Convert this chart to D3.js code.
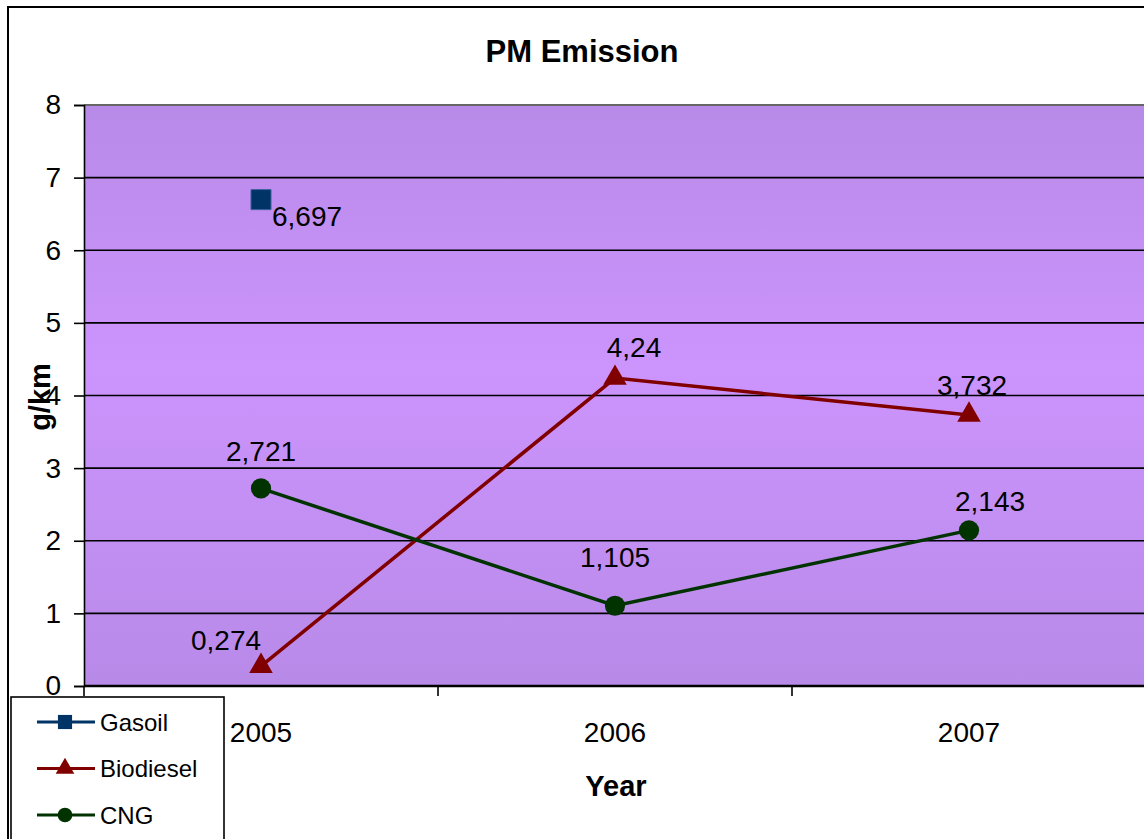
<!DOCTYPE html>
<html>
<head>
<meta charset="utf-8">
<script src="https://cdn.jsdelivr.net/npm/d3@7/dist/d3.min.js"></script>
<style>
  html, body { margin: 0; padding: 0; background: #ffffff; overflow: hidden; }
  svg { display: block; font-family: "Liberation Sans", Arial, sans-serif; }
</style>
</head>
<body>
<svg id="chart" width="1144" height="839"></svg>
<script>
// Years on the category axis
const years = ["2005", "2006", "2007"];
// PM emission in g/km per fuel (null = not measured)
const gasoil    = [6.697, null, null];
const biodiesel = [0.274, 4.24, 3.732];
const cng       = [2.721, 1.105, 2.143];
// Value axis ticks
const yTicks = [0, 1, 2, 3, 4, 5, 6, 7, 8];

const series = [
  { name: "Gasoil",    values: gasoil,    color: "#003366", symbol: d3.symbolSquare,   size: 400, legendSize: 200 },
  { name: "Biodiesel", values: biodiesel, color: "#800000", symbol: d3.symbolTriangle, size: 240, legendSize: 150 },
  { name: "CNG",       values: cng,       color: "#003300", symbol: d3.symbolCircle,   size: 320, legendSize: 170 }
];

// Nudges for the value labels, one per point [dx, dy]
const labelNudge = {
  Gasoil:    [[11, 26], null, null],
  Biodiesel: [[-35, -16], [19, -21], [3, -20]],
  CNG:       [[0, -27], [0, -39], [21, -19]]
};
const labelAnchor = { Gasoil: "start", Biodiesel: "middle", CNG: "middle" };

const svg = d3.select("#chart");
const plot = { left: 84, top: 105, right: 1146, bottom: 686 };

const x = d3.scaleBand().domain(years).range([plot.left, plot.right]).padding(0);
const y = d3.scaleLinear().domain([0, 8]).range([plot.bottom, plot.top]);

// Outer chart frame
svg.append("rect")
  .attr("x", 8).attr("y", 7).attr("width", 1150).attr("height", 850)
  .attr("fill", "#ffffff").attr("stroke", "#000").attr("stroke-width", 2);

// Plot background: purple band that lightens toward the middle
const defs = svg.append("defs");
const grad = defs.append("linearGradient").attr("id", "bg")
  .attr("x1", 0).attr("y1", 0).attr("x2", 0).attr("y2", 1);
grad.append("stop").attr("offset", "0%").attr("stop-color", "#b88ae8");
grad.append("stop").attr("offset", "45%").attr("stop-color", "#cc94fd");
grad.append("stop").attr("offset", "100%").attr("stop-color", "#b88ae8");

svg.append("rect")
  .attr("x", plot.left).attr("y", plot.top)
  .attr("width", plot.right - plot.left).attr("height", plot.bottom - plot.top)
  .attr("fill", "url(#bg)");

// Horizontal gridlines
svg.append("g").selectAll("line")
  .data(yTicks.filter(d => d > 0))
  .join("line")
  .attr("x1", plot.left).attr("x2", plot.right)
  .attr("y1", d => y(d)).attr("y2", d => y(d))
  .attr("stroke", d => d === 8 ? "#666" : "#000")
  .attr("stroke-width", d => d === 8 ? 2 : 1.6);

// Y axis
const yAxis = d3.axisLeft(y).tickValues(yTicks).tickSize(10).tickPadding(13).tickFormat(d3.format("d"));
const gy = svg.append("g").attr("transform", `translate(${plot.left},0)`).call(yAxis);
gy.select(".domain").attr("stroke", "#000").attr("stroke-width", 1.6);
gy.selectAll(".tick line").attr("stroke", "#000").attr("stroke-width", 1.6);
gy.selectAll(".tick text").attr("font-size", 28).attr("fill", "#000")
  .attr("font-family", "Liberation Sans, Arial, sans-serif");

// X axis line and category boundary ticks
svg.append("line")
  .attr("x1", plot.left).attr("x2", plot.right)
  .attr("y1", plot.bottom).attr("y2", plot.bottom)
  .attr("stroke", "#000").attr("stroke-width", 2.5);
const bounds = years.map(d => x(d)).concat([x(years[years.length - 1]) + x.bandwidth()]);
svg.append("g").selectAll("line")
  .data(bounds)
  .join("line")
  .attr("x1", d => d).attr("x2", d => d)
  .attr("y1", plot.bottom).attr("y2", plot.bottom + 10)
  .attr("stroke", "#000").attr("stroke-width", 1.6);
svg.append("g").selectAll("text")
  .data(years)
  .join("text")
  .attr("x", d => x(d) + x.bandwidth() / 2)
  .attr("y", 742)
  .attr("text-anchor", "middle")
  .attr("font-size", 28)
  .text(d => d);

// Titles
svg.append("text").attr("x", 582).attr("y", 62).attr("text-anchor", "middle")
  .attr("font-size", 31).attr("font-weight", "bold").text("PM Emission");
svg.append("text").attr("x", 616).attr("y", 796).attr("text-anchor", "middle")
  .attr("font-size", 29).attr("font-weight", "bold").text("Year");
svg.append("text").attr("transform", "translate(50,397) rotate(-90)").attr("text-anchor", "middle")
  .attr("font-size", 29).attr("font-weight", "bold").text("g/km");

// Series lines, markers and value labels
const fmt = v => String(v).replace(".", ",");
const cx = i => x(years[i]) + x.bandwidth() / 2;

series.forEach(s => {
  const pts = s.values.map((v, i) => ({ v, i })).filter(p => p.v !== null);
  const line = d3.line().x(p => cx(p.i)).y(p => y(p.v));
  if (pts.length > 1) {
    svg.append("path").datum(pts)
      .attr("d", line).attr("fill", "none")
      .attr("stroke", s.color).attr("stroke-width", 3.5);
  }
  svg.append("g").selectAll("path")
    .data(pts)
    .join("path")
    .attr("transform", p => `translate(${cx(p.i)},${y(p.v)})`)
    .attr("d", d3.symbol().type(s.symbol).size(s.size))
    .attr("fill", s.color)
    .attr("stroke", s.name === "Gasoil" ? "#3a5f9a" : "none")
    .attr("stroke-width", 1);
  svg.append("g").selectAll("text")
    .data(pts)
    .join("text")
    .attr("x", p => cx(p.i) + labelNudge[s.name][p.i][0])
    .attr("y", p => y(p.v) + labelNudge[s.name][p.i][1])
    .attr("text-anchor", labelAnchor[s.name])
    .attr("font-size", 28)
    .text(p => fmt(p.v));
});

// Legend
const lg = svg.append("g");
lg.append("rect").attr("x", 11).attr("y", 697).attr("width", 213).attr("height", 160)
  .attr("fill", "#fff").attr("stroke", "#000").attr("stroke-width", 1.6);
series.forEach((s, k) => {
  const ly = 722 + k * 46.5;
  lg.append("line").attr("x1", 37).attr("x2", 95).attr("y1", ly).attr("y2", ly)
    .attr("stroke", s.color).attr("stroke-width", 3);
  lg.append("path").attr("transform", `translate(65,${ly})`)
    .attr("d", d3.symbol().type(s.symbol).size(s.legendSize)).attr("fill", s.color);
  lg.append("text").attr("x", 100).attr("y", ly + 8.5).attr("font-size", 24).text(s.name);
});
</script>
</body>
</html>
